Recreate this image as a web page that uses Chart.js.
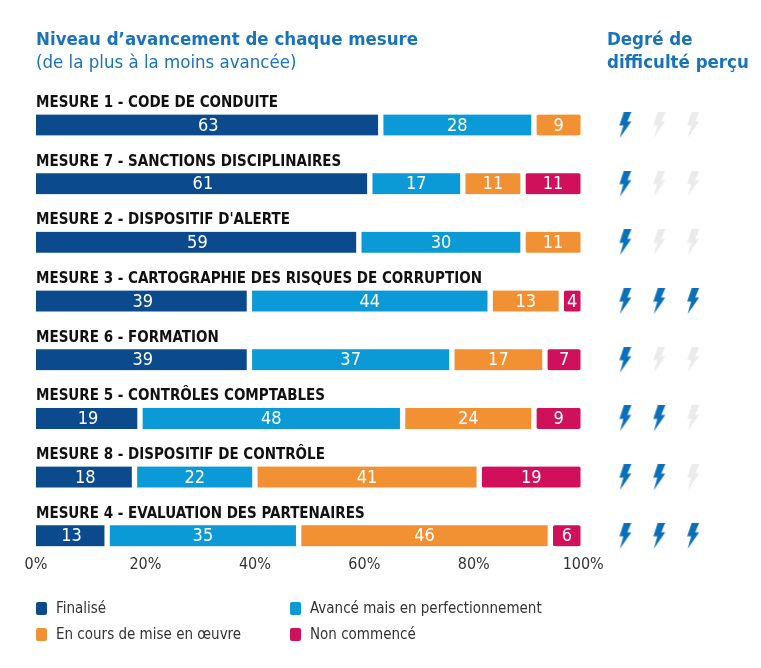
<!DOCTYPE html>
<html lang="fr">
<head>
<meta charset="utf-8">
<script src="https://cdn.jsdelivr.net/npm/chart.js@4.4.1/dist/chart.umd.min.js"></script>
<style>
  html, body { margin: 0; padding: 0; background: #fff; }
  #wrap { position: relative; width: 761px; height: 668px; overflow: hidden;
    font-family: "DejaVu Sans Condensed", "Liberation Sans", sans-serif; }
  #chart { position: absolute; left: 0; top: 0; }
  .title { position: absolute; color: #1a73b9; font-size: 18.5px; line-height: 23px; }
  .title b { font-weight: bold; }
  #t1 { left: 36px; top: 27px; }
  #t2 { left: 607px; top: 27px; }
  #legend { position: absolute; left: 36px; top: 597px; display: grid;
    grid-template-columns: 254px 254px; row-gap: 4px; font-size: 15px; color: #333; }
  #legend div { display: flex; align-items: center; height: 22px; }
  #legend span { display: inline-block; width: 11px; height: 13px; border-radius: 2px; margin-right: 9px; }
</style>
</head>
<body>
<div id="wrap">
  <canvas id="chart" width="761" height="668"></canvas>
  <div class="title" id="t1"><b>Niveau d’avancement de chaque mesure</b><br>(de la plus à la moins avancée)</div>
  <div class="title" id="t2"><b>Degré de<br>difficulté perçu</b></div>
  <div id="legend"></div>
</div>
<script>
const labels = [
  'MESURE 1 - CODE DE CONDUITE',
  'MESURE 7 - SANCTIONS DISCIPLINAIRES',
  "MESURE 2 - DISPOSITIF D'ALERTE",
  'MESURE 3 - CARTOGRAPHIE DES RISQUES DE CORRUPTION',
  'MESURE 6 - FORMATION',
  'MESURE 5 - CONTRÔLES COMPTABLES',
  'MESURE 8 - DISPOSITIF DE CONTRÔLE',
  'MESURE 4 - EVALUATION DES PARTENAIRES'
]
const seriesNames = ['Finalisé', 'Avancé mais en perfectionnement', 'En cours de mise en œuvre', 'Non commencé']
const finalise = [63, 61, 59, 39, 39, 19, 18, 13]
const avance = [28, 17, 30, 44, 37, 48, 22, 35]
const enCours = [9, 11, 11, 13, 17, 24, 41, 46]
const nonCommence = [null, 11, null, 4, 7, 9, 19, 6]
const difficulte = [1, 1, 1, 3, 1, 2, 2, 3]
const xTicks = [0, 20, 40, 60, 80, 100]

const colors = ['#0b4a8d', '#0b9ad6', '#f29133', '#d0105a']
const boltSlots = [107.7, 113.9, 120.1]
const font = '"DejaVu Sans Condensed", "Liberation Sans", sans-serif'

function makeBolt(color) {
  const c = document.createElement('canvas')
  c.width = 14
  c.height = 26
  const g = c.getContext('2d')
  g.fillStyle = color
  g.beginPath()
  g.moveTo(5.5, 0)
  g.lineTo(13, 0)
  g.lineTo(9, 9.5)
  g.lineTo(13, 9.5)
  g.lineTo(1.5, 26)
  g.lineTo(5, 13.5)
  g.lineTo(1, 13.5)
  g.closePath()
  g.fill()
  return c
}
const boltOn = makeBolt('#0c70b8')
const boltOff = makeBolt('#ebebeb')

const boltPoints = []
difficulte.forEach(function(d, i) {
  boltSlots.forEach(function(x, k) {
    boltPoints.push({ x: x, y: labels[i], on: k < d })
  })
})

// category names above the bars and values inside the segments
const barText = {
  id: 'barText',
  afterDatasetsDraw(chart) {
    const ctx = chart.ctx
    const yScale = chart.scales.y
    ctx.save()
    ctx.fillStyle = '#111'
    ctx.textAlign = 'left'
    ctx.textBaseline = 'middle'
    ctx.font = 'bold 15px ' + font
    labels.forEach(function(l, i) {
      ctx.fillText(l, chart.chartArea.left, yScale.getPixelForValue(i) - 22)
    })
    ctx.fillStyle = '#fff'
    ctx.textAlign = 'center'
    ctx.font = '18px ' + font
    chart.data.datasets.forEach(function(ds, di) {
      if (ds.type === 'scatter') return
      chart.getDatasetMeta(di).data.forEach(function(bar, i) {
        const v = ds.data[i]
        if (v === null) return
        ctx.fillText(String(v), (bar.x + bar.base) / 2, bar.y + 1)
      })
    })
    ctx.restore()
  }
}

const barSets = [finalise, avance, enCours, nonCommence].map(function(d, i) {
  return {
    label: seriesNames[i],
    data: d,
    backgroundColor: colors[i],
    borderColor: '#fff',
    borderWidth: { left: i === 0 ? 0 : 3, right: 3, top: 0, bottom: 0 },
    borderSkipped: false,
    borderRadius: 5,
    barThickness: 21,
    clip: false
  }
})

new Chart(document.getElementById('chart').getContext('2d'), {
  type: 'bar',
  data: {
    labels: labels,
    datasets: barSets.concat([{
      type: 'scatter',
      label: 'difficulté',
      data: boltPoints,
      xAxisID: 'xb',
      pointStyle: function(c) { return c.raw && c.raw.on ? boltOn : boltOff },
      pointRadius: 8,
      clip: false
    }])
  },
  plugins: [barText],
  options: {
    indexAxis: 'y',
    responsive: false,
    maintainAspectRatio: false,
    animation: false,
    events: [],
    layout: { padding: { left: 36, right: 41, top: 125, bottom: 75 } },
    plugins: { legend: { display: false }, tooltip: { enabled: false } },
    scales: {
      x: {
        stacked: true,
        min: 0,
        max: 125,
        afterBuildTicks: function(scale) {
          scale.ticks = xTicks.map(function(v) { return { value: v } })
        },
        ticks: {
          callback: function(v) { return v + '%' },
          color: '#333',
          font: { family: font, size: 16 },
          padding: 19,
          maxRotation: 0,
          autoSkip: false
        },
        grid: { display: false, drawTicks: false },
        border: { display: false }
      },
      xb: { min: 0, max: 125, display: false },
      y: {
        stacked: true,
        display: false,
        offset: false
      }
    }
  }
})

const legend = document.getElementById('legend')
;[0, 1, 2, 3].forEach(function(i) {
  const item = document.createElement('div')
  const sw = document.createElement('span')
  sw.style.background = colors[i]
  item.appendChild(sw)
  item.appendChild(document.createTextNode(seriesNames[i]))
  legend.appendChild(item)
})
</script>
</body>
</html>
